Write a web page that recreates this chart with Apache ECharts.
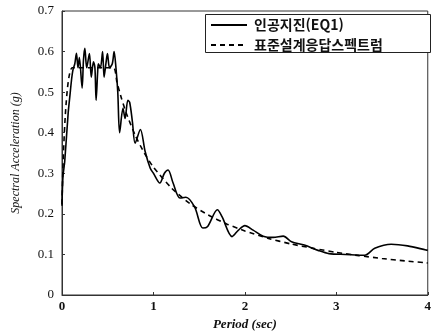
<!DOCTYPE html>
<html lang="ko">
<head>
    <meta charset="UTF-8">
    <title>Spectral Acceleration</title>
    <script src="https://cdn.jsdelivr.net/npm/echarts@6/dist/echarts.min.js"></script>
</head>
<body style="margin:0">
<div style="width:434px;height:336px" id="picture"></div>
<script>
    // 인공지진(EQ1) 응답스펙트럼 (period, g)
    var eqPeriod = [0, 0.01, 0.03, 0.068, 0.086, 0.104, 0.12, 0.14, 0.158, 0.175, 0.19, 0.22, 0.235, 0.25, 0.27, 0.30, 0.32, 0.344, 0.36, 0.373, 0.39, 0.398, 0.42, 0.444, 0.46, 0.48, 0.497, 0.52, 0.55, 0.57, 0.59, 0.61, 0.63, 0.667, 0.69, 0.72, 0.74, 0.77, 0.80, 0.857, 0.91, 0.964, 1.0, 1.07, 1.12, 1.16, 1.215, 1.29, 1.355, 1.45, 1.54, 1.59, 1.70, 1.75, 1.86, 1.93, 2.0, 2.09, 2.2, 2.31, 2.42, 2.51, 2.65, 2.8, 2.92, 3.1, 3.31, 3.42, 3.6, 3.78, 3.98, 4.0];
    var eqValue = [0.22, 0.29, 0.33, 0.45, 0.49, 0.53, 0.555, 0.57, 0.596, 0.56, 0.585, 0.51, 0.58, 0.608, 0.56, 0.595, 0.537, 0.575, 0.56, 0.48, 0.55, 0.57, 0.56, 0.6, 0.537, 0.57, 0.595, 0.56, 0.57, 0.6, 0.56, 0.50, 0.40, 0.46, 0.435, 0.48, 0.475, 0.427, 0.374, 0.408, 0.353, 0.313, 0.30, 0.276, 0.30, 0.308, 0.276, 0.239, 0.241, 0.217, 0.165, 0.168, 0.21, 0.193, 0.144, 0.16, 0.171, 0.16, 0.145, 0.142, 0.145, 0.131, 0.123, 0.11, 0.102, 0.10, 0.098, 0.115, 0.125, 0.121, 0.111, 0.11];
    // 표준설계응답스펙트럼
    var stdPeriod = [0, 0.113, 0.5625, 0.6, 0.65, 0.7, 0.8, 0.9, 1.0, 1.2, 1.4, 1.6, 1.8, 2.0, 2.25, 2.5, 2.75, 3.0, 3.25, 3.5, 3.75, 4.0];
    var stdValue = [0.224, 0.56, 0.56, 0.525, 0.485, 0.45, 0.394, 0.35, 0.315, 0.263, 0.225, 0.197, 0.175, 0.158, 0.14, 0.126, 0.115, 0.105, 0.097, 0.09, 0.084, 0.079];
    var xTicks = ['0', '1', '2', '3', '4'];
    var yTicks = ['0', '0.1', '0.2', '0.3', '0.4', '0.5', '0.6', '0.7'];

    var list1 = [];
    for (var i = 0; i < eqPeriod.length; i++) {
        list1.push([eqPeriod[i], eqValue[i]]);
    }
    var list2 = [];
    for (var j = 0; j < stdPeriod.length; j++) {
        list2.push([stdPeriod[j], stdValue[j]]);
    }

    var serif = '"Liberation Serif", "DejaVu Serif", serif';
    var myChart = echarts.init(document.getElementById('picture'));
    var option = {
        backgroundColor: '#fff',
        animation: false,
        grid: {
            left: 62,
            right: 1,
            top: 11,
            bottom: 41,
            show: true,
            borderColor: '#333',
            borderWidth: 1
        },
        // legend frame
        graphic: [{
            type: 'rect',
            left: 205,
            top: 14,
            shape: {width: 225, height: 38},
            style: {fill: '#fff', stroke: '#222', lineWidth: 1},
            z: 10
        }],
        legend: {
            left: 210,
            top: 18,
            orient: 'vertical',
            itemWidth: 36,
            itemHeight: 12,
            itemGap: 6,
            padding: 0,
            z: 20,
            itemStyle: {opacity: 0},
            textStyle: {
                fontFamily: '"Noto Sans CJK KR", sans-serif',
                fontWeight: 'bold',
                fontSize: 14,
                color: '#111',
                padding: [0, 0, 0, 2]
            },
            data: ['인공지진(EQ1)', '표준설계응답스펙트럼']
        },
        xAxis: {
            type: 'value',
            min: 0,
            max: 4,
            interval: 1,
            name: 'Period (sec)',
            nameLocation: 'middle',
            nameGap: 22,
            nameTextStyle: {
                fontFamily: serif,
                fontStyle: 'italic',
                fontWeight: 'bold',
                fontSize: 13,
                color: '#111'
            },
            axisLine: {lineStyle: {color: '#333', width: 1}},
            axisTick: {inside: true, length: 3, lineStyle: {color: '#333'}},
            splitLine: {show: false},
            axisLabel: {
                fontFamily: serif,
                fontWeight: 'bold',
                fontSize: 13,
                color: '#111',
                margin: 5,
                formatter: function (v) {
                    return xTicks[Math.round(v)];
                }
            }
        },
        yAxis: {
            type: 'value',
            min: 0,
            max: 0.7,
            interval: 0.1,
            name: 'Spectral Acceleration (g)',
            nameLocation: 'middle',
            nameGap: 40,
            nameTextStyle: {
                fontFamily: serif,
                fontStyle: 'italic',
                fontSize: 12,
                color: '#111'
            },
            axisLine: {lineStyle: {color: '#333', width: 1}},
            axisTick: {inside: true, length: 3, lineStyle: {color: '#333'}},
            splitLine: {show: false},
            axisLabel: {
                fontFamily: serif,
                fontSize: 13,
                color: '#111',
                margin: 8,
                formatter: function (v) {
                    return yTicks[Math.round(v * 10)];
                }
            }
        },
        series: [
            {
                name: '인공지진(EQ1)',
                type: 'line',
                data: list1,
                symbol: 'none',
                smooth: 0.3,
                lineStyle: {color: '#000', width: 1.6, type: 'solid'},
                itemStyle: {color: '#000'},
                z: 3
            },
            {
                name: '표준설계응답스펙트럼',
                type: 'line',
                data: list2,
                symbol: 'none',
                smooth: 0.2,
                lineStyle: {color: '#000', width: 1.6, type: [5, 4]},
                itemStyle: {color: '#000'},
                z: 2
            }
        ]
    };
    myChart.setOption(option);
</script>
</body>
</html>
